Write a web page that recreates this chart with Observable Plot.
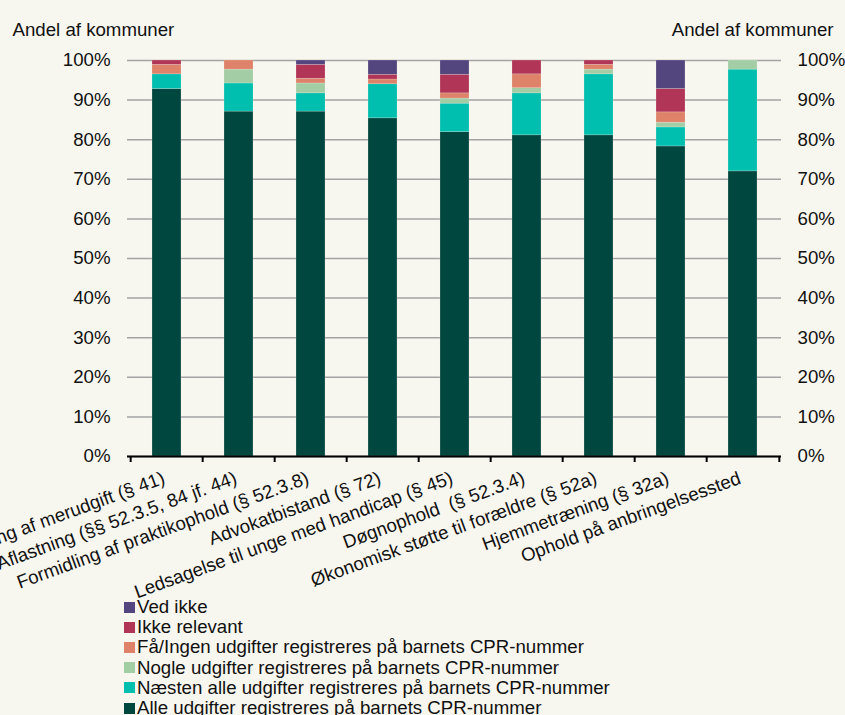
<!DOCTYPE html>
<html>
<head>
<meta charset="utf-8">
<script src="https://cdn.jsdelivr.net/npm/d3@7"></script>
<script src="https://cdn.jsdelivr.net/npm/@observablehq/plot@0.6"></script>
<style>
  html, body { margin: 0; padding: 0; background: #f8f7ef; }
  body { width: 845px; height: 715px; overflow: hidden; font-family: "Liberation Sans", Arial, sans-serif; }
  #legend { margin-left: 124px; font-size: 18.67px; color: #111; }
  .li { height: 20.2px; line-height: 20.2px; display: flex; align-items: center; white-space: nowrap; }
  .sw { width: 11px; height: 11px; margin-right: 2px; flex: none; }
</style>
</head>
<body>
<div id="chart"></div>
<div id="legend"></div>
<script>
const categories = [
  "Dækning af merudgift (§ 41)",
  "Aflastning (§§ 52.3.5, 84 jf. 44)",
  "Formidling af praktikophold (§ 52.3.8)",
  "Advokatbistand (§ 72)",
  "Ledsagelse til unge med handicap (§ 45)",
  "Døgnophold  (§ 52.3.4)",
  "Økonomisk støtte til forældre (§ 52a)",
  "Hjemmetræning (§ 32a)",
  "Ophold på anbringelsessted"
];
const seriesNames = [
  "Alle udgifter registreres på barnets CPR-nummer",
  "Næsten alle udgifter registreres på barnets CPR-nummer",
  "Nogle udgifter registreres på barnets CPR-nummer",
  "Få/Ingen udgifter registreres på barnets CPR-nummer",
  "Ikke relevant",
  "Ved ikke"
];
const seriesColors = ["#00473f", "#00bfaf", "#a2cda5", "#de8269", "#b03556", "#53457d"];
const alle    = [92.8, 87.1, 87.1, 85.4, 81.9, 81.1, 81.1, 78.3, 72.0];
const naesten = [3.7, 7.1, 4.6, 8.6, 7.2, 10.6, 15.4, 4.8, 25.7];
const nogle   = [0, 3.5, 2.5, 0, 1.3, 1.3, 1.2, 1.2, 2.3];
const faa     = [2.4, 2.3, 1.2, 1.2, 1.3, 3.5, 1.2, 2.6, 0];
const ikkeRel = [1.1, 0, 3.5, 1.2, 4.7, 3.5, 1.1, 5.9, 0];
const vedIkke = [0, 0, 1.1, 3.6, 3.6, 0, 0, 7.2, 0];
const yTicks = [0, 10, 20, 30, 40, 50, 60, 70, 80, 90, 100];
const axisTitle = ["Andel af kommuner"];

const seriesValues = [alle, naesten, nogle, faa, ikkeRel, vedIkke];
const data = [];
seriesNames.forEach((s, si) => {
  categories.forEach((c, ci) => data.push({cat: c, series: s, value: seriesValues[si][ci]}));
});

const W = 845, H = 597, mL = 127, mR = 64, mT = 60, mB = 141;
const step = (W - mL - mR) / categories.length;

const plot = Plot.plot({
  width: W, height: H,
  marginLeft: mL, marginRight: mR, marginTop: mT, marginBottom: mB,
  style: {background: "#f8f7ef", fontFamily: "'Liberation Sans', Arial, sans-serif", fontSize: "18.67px", color: "#111", overflow: "visible"},
  x: {domain: categories, paddingInner: 0.6, paddingOuter: 0.3, label: null},
  y: {domain: [0, 100], label: null},
  color: {domain: seriesNames, range: seriesColors},
  marks: [
    Plot.gridY(yTicks, {stroke: "#a3a3a3", strokeOpacity: 1, strokeWidth: 1.5}),
    Plot.barY(data, {x: "cat", y: "value", fill: "series", stroke: "#f8f7ef", strokeOpacity: 0.35, strokeWidth: 0.6}),
    Plot.ruleY([0], {stroke: "#000", strokeWidth: 2}),
    Plot.axisY(yTicks, {anchor: "left", tickSize: 0, tickPadding: 17, tickFormat: d => d + "%", label: null}),
    Plot.axisY(yTicks, {anchor: "right", tickSize: 0, tickPadding: 16, tickFormat: d => d + "%", label: null}),
    Plot.axisX({tickSize: 0, tickPadding: 21, dx: -3, tickRotate: -20, label: null}),
    Plot.axisX(categories, {tickSize: 6, tickFormat: () => "", dx: -step / 2, label: null, stroke: "#000", strokeWidth: 2}),
    Plot.axisX(categories.slice(-1), {tickSize: 6, tickFormat: () => "", dx: step / 2, label: null, stroke: "#000", strokeWidth: 2}),
    Plot.text(axisTitle, {text: d => d, frameAnchor: "top-left", textAnchor: "start", dx: -115, dy: -38}),
    Plot.text(axisTitle, {text: d => d, frameAnchor: "top-right", textAnchor: "end", dx: 52, dy: -38})
  ]
});
document.getElementById("chart").appendChild(plot);

const legend = d3.select("#legend");
seriesNames.slice().reverse().forEach((s, i) => {
  const row = legend.append("div").attr("class", "li");
  row.append("div").attr("class", "sw").style("background", seriesColors[seriesNames.length - 1 - i]);
  row.append("span").text(s);
});
</script>
</body>
</html>
